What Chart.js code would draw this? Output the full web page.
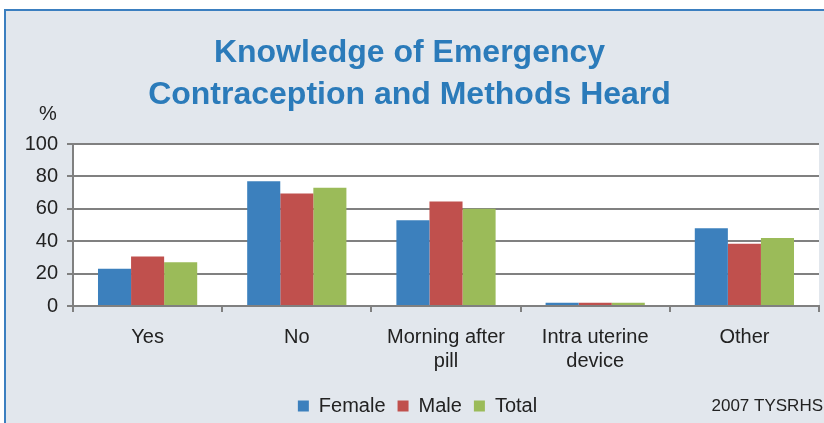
<!DOCTYPE html>
<html>
<head>
<meta charset="utf-8">
<script src="https://cdn.jsdelivr.net/npm/chart.js@4/dist/chart.umd.min.js"></script>
<style>
  html, body { margin: 0; padding: 0; background: #fff; }
  #wrap { width: 824px; height: 423px; }
</style>
</head>
<body>
<div id="wrap"><canvas id="chart" width="824" height="423"></canvas></div>
<script>
const categories = ['Yes', 'No', ['Morning after', 'pill'], ['Intra uterine', 'device'], 'Other'];
const female = [23, 77, 53, 2, 48];
const male = [30.5, 69.5, 64.5, 2, 38.5];
const total = [27, 73, 60, 2, 42];
const yTicks = [0, 20, 40, 60, 80, 100];

const TEXT = '#222222';
const GRID = '#808080';
const FONT = 'Liberation Sans, Arial, sans-serif';

// panel background, blue frame, white plot area and the loose labels
const panel = {
  id: 'panel',
  afterLayout(chart) {
    // nudge the legend to where it sits in the original
    const lg = chart.legend;
    lg.left += 8; lg.right += 8;
    lg.top += 3; lg.bottom += 3;
  },
  beforeDraw(chart) {
    const { ctx, chartArea } = chart;
    ctx.save();
    ctx.fillStyle = '#e2e7ed';
    ctx.fillRect(5, 10, chart.width, chart.height);
    ctx.strokeStyle = '#3b7fc0';
    ctx.lineWidth = 2;
    ctx.beginPath();
    ctx.moveTo(5, chart.height + 5);
    ctx.lineTo(5, 10);
    ctx.lineTo(chart.width + 5, 10);
    ctx.stroke();
    ctx.fillStyle = '#ffffff';
    ctx.fillRect(chartArea.left, chartArea.top, chartArea.right - chartArea.left, chartArea.bottom - chartArea.top);
    ctx.restore();
  },
  afterDraw(chart) {
    const { ctx } = chart;
    ctx.save();
    ctx.fillStyle = TEXT;
    ctx.font = '20px ' + FONT;
    ctx.textAlign = 'center';
    ctx.textBaseline = 'middle';
    ctx.fillText('%', 48, 114);
    ctx.font = '17px ' + FONT;
    ctx.textAlign = 'right';
    ctx.fillText('2007 TYSRHS', 823, 406);
    ctx.restore();
  }
};

new Chart(document.getElementById('chart'), {
  type: 'bar',
  data: {
    labels: categories,
    datasets: [
      { label: 'Female', data: female, backgroundColor: '#3c80bd' },
      { label: 'Male', data: male, backgroundColor: '#c0504d' },
      { label: 'Total', data: total, backgroundColor: '#9bbb59' }
    ]
  },
  options: {
    responsive: false,
    animation: false,
    events: [],
    layout: { padding: { top: 0, right: 5, bottom: 0, left: 0 } },
    datasets: { bar: { categoryPercentage: 0.665, barPercentage: 1 } },
    plugins: {
      title: {
        display: true,
        text: ['Knowledge of Emergency', 'Contraception and Methods Heard'],
        color: '#2b7bba',
        font: { family: FONT, size: 32, weight: 'bold', lineHeight: 1.3125 },
        padding: { top: 32, bottom: 28 }
      },
      legend: {
        position: 'bottom',
        labels: {
          color: TEXT,
          font: { family: FONT, size: 20 },
          boxWidth: 11,
          boxHeight: 11,
          padding: 12
        }
      },
      tooltip: { enabled: false }
    },
    scales: {
      x: {
        grid: { display: true, drawOnChartArea: false, drawTicks: true, tickLength: 6, color: GRID, lineWidth: 2 },
        border: { color: GRID, width: 2 },
        ticks: { color: TEXT, font: { family: FONT, size: 20, lineHeight: 1.2 }, padding: 13, maxRotation: 0 },
        afterFit(scale) { scale.height = 75; }
      },
      y: {
        min: 0,
        max: 100,
        afterBuildTicks(scale) { scale.ticks = yTicks.map(v => ({ value: v })); },
        grid: { color: GRID, lineWidth: 2, tickLength: 6 },
        border: { color: GRID, width: 2 },
        ticks: { color: TEXT, font: { family: FONT, size: 20 }, padding: 9 },
        afterFit(scale) { scale.width = 73; }
      }
    }
  },
  plugins: [panel]
});
</script>
</body>
</html>
